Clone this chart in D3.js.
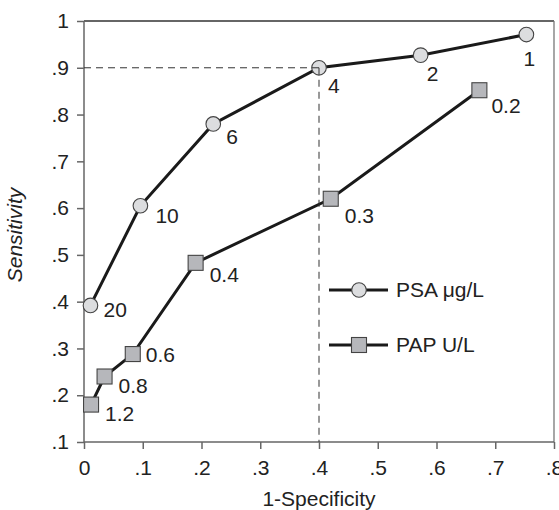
<!DOCTYPE html>
<html>
<head>
<meta charset="utf-8">
<script src="https://cdn.jsdelivr.net/npm/d3@7"></script>
<style>
  body { margin: 0; background: #fff; }
  svg text { font-family: "Liberation Sans", Arial, sans-serif; fill: #222; }
</style>
</head>
<body>
<svg id="chart" width="559" height="510"></svg>
<script>
// PSA curve (circles)
var psaX = [0.011, 0.096, 0.220, 0.400, 0.573, 0.753]
var psaY = [0.392, 0.605, 0.780, 0.900, 0.927, 0.971]
var psaCut = ["20", "10", "6", "4", "2", "1"]

// PAP curve (squares)
var papX = [0.012, 0.035, 0.083, 0.190, 0.420, 0.673]
var papY = [0.180, 0.240, 0.288, 0.483, 0.620, 0.852]
var papCut = ["1.2", "0.8", "0.6", "0.4", "0.3", "0.2"]

var xTicks = [0, .1, .2, .3, .4, .5, .6, .7, .8]
var xTickLabels = ["0", ".1", ".2", ".3", ".4", ".5", ".6", ".7", ".8"]
var yTicks = [.1, .2, .3, .4, .5, .6, .7, .8, .9, 1]
var yTickLabels = [".1", ".2", ".3", ".4", ".5", ".6", ".7", ".8", ".9", "1"]

var legendNames = ["PSA \u03bcg/L", "PAP U/L"]

var margin = { top: 21, right: 5, bottom: 68, left: 84 },
    width = 559 - margin.left - margin.right,
    height = 510 - margin.top - margin.bottom;

var fs = "21px"

var x = d3.scaleLinear().domain([0, 0.8]).range([0, width])
var y = d3.scaleLinear().domain([0.1, 1]).range([height, 0])

var svg = d3.select('#chart')
var g = svg.append("g").attr("transform", "translate(" + margin.left + "," + margin.top + ")")

// frame: top and right
g.append("line").attr("x1", 0).attr("x2", width).attr("y1", 0).attr("y2", 0)
    .style("stroke", "#333").style("stroke-width", 1.3)
g.append("line").attr("x1", width).attr("x2", width).attr("y1", 0).attr("y2", height)
    .style("stroke", "#777").style("stroke-width", 1.3)

// axes
var xAxis = g.append("g")
    .attr("transform", "translate(0," + height + ")")
    .call(d3.axisBottom(x)
        .tickValues(xTicks)
        .tickSize(7)
        .tickPadding(10)
        .tickFormat((d, i) => xTickLabels[i]))
var yAxis = g.append("g")
    .call(d3.axisLeft(y)
        .tickValues(yTicks)
        .tickSize(7)
        .tickPadding(8)
        .tickFormat((d, i) => yTickLabels[i]))

xAxis.select(".domain").attr("d", "M0,0H" + width)
yAxis.select(".domain").attr("d", "M0,0V" + height)
svg.selectAll(".domain, .tick line").style("stroke", "#666").style("stroke-width", 1.5)
svg.selectAll(".tick text").style("font-size", fs).style("fill", "#222")
xAxis.selectAll(".tick text").attr("dy", "0.76em")

// axis titles
svg.append("text")
    .attr("x", margin.left + x(0.4))
    .attr("y", 506)
    .attr("text-anchor", "middle")
    .style("font-size", fs)
    .text("1-Specificity")

svg.append("text")
    .attr("transform", "rotate(-90)")
    .attr("x", -235)
    .attr("y", 22)
    .attr("text-anchor", "middle")
    .style("font-size", fs)
    .style("font-style", "italic")
    .text("Sensitivity")

// curves
var line = d3.line().x(d => x(d[0])).y(d => y(d[1]))
var psa = psaX.map((v, i) => [v, psaY[i], psaCut[i]])
var pap = papX.map((v, i) => [v, papY[i], papCut[i]])

g.append("path").datum(psa).attr("d", line)
    .style("fill", "none").style("stroke", "#1a1a1a").style("stroke-width", 3)
g.append("path").datum(pap).attr("d", line)
    .style("fill", "none").style("stroke", "#1a1a1a").style("stroke-width", 3)

g.selectAll(".psa")
    .data(psa)
    .enter()
    .append("circle")
    .attr("class", "psa")
    .attr("cx", d => x(d[0]))
    .attr("cy", d => y(d[1]))
    .attr("r", 7.3)
    .style("fill", "#dcdddf")
    .style("stroke", "#444")
    .style("stroke-width", 1.1)

g.selectAll(".pap")
    .data(pap)
    .enter()
    .append("rect")
    .attr("class", "pap")
    .attr("x", d => x(d[0]) - 7.5)
    .attr("y", d => y(d[1]) - 7.5)
    .attr("width", 15)
    .attr("height", 15)
    .style("fill", "#b6b7bb")
    .style("stroke", "#444")
    .style("stroke-width", 1.1)

// dashed guides at 1-specificity .4 / sensitivity .9
g.append("line")
    .attr("x1", x(0)).attr("x2", x(0.4))
    .attr("y1", y(0.9)).attr("y2", y(0.9))
    .style("stroke", "#333").style("stroke-width", 1).style("stroke-dasharray", "7,5")
g.append("line")
    .attr("x1", x(0.4)).attr("x2", x(0.4))
    .attr("y1", y(0.9)).attr("y2", y(0.1))
    .style("stroke", "#333").style("stroke-width", 1).style("stroke-dasharray", "7,5")

// cut-off labels (offsets from each marker)
var psaOff = [[13, 12], [15, 17], [13, 20], [9, 25], [6, 26], [-3, 31]]
var papOff = [[14, 16], [14, 16], [13, 8], [14, 19], [14, 24], [12, 23]]

g.selectAll(".psaLab")
    .data(psa)
    .enter()
    .append("text")
    .attr("x", (d, i) => x(d[0]) + psaOff[i][0])
    .attr("y", (d, i) => y(d[1]) + psaOff[i][1])
    .style("font-size", fs)
    .text(d => d[2])

g.selectAll(".papLab")
    .data(pap)
    .enter()
    .append("text")
    .attr("x", (d, i) => x(d[0]) + papOff[i][0])
    .attr("y", (d, i) => y(d[1]) + papOff[i][1])
    .style("font-size", fs)
    .text(d => d[2])

// Legend
var lg = svg.append("g").attr("transform", "translate(329,290)")
lg.append("line").attr("x1", 0).attr("x2", 59).attr("y1", 0).attr("y2", 0)
    .style("stroke", "#1a1a1a").style("stroke-width", 3)
lg.append("circle").attr("cx", 30).attr("cy", 0).attr("r", 7.3)
    .style("fill", "#dcdddf").style("stroke", "#444").style("stroke-width", 1.1)
lg.append("text").attr("x", 67).attr("y", 0).attr("dy", "0.35em")
    .style("font-size", fs).text(legendNames[0])

lg.append("line").attr("x1", 0).attr("x2", 59).attr("y1", 55).attr("y2", 55)
    .style("stroke", "#1a1a1a").style("stroke-width", 3)
lg.append("rect").attr("x", 22.5).attr("y", 47.5).attr("width", 15).attr("height", 15)
    .style("fill", "#b6b7bb").style("stroke", "#444").style("stroke-width", 1.1)
lg.append("text").attr("x", 67).attr("y", 55).attr("dy", "0.35em")
    .style("font-size", fs).text(legendNames[1])
</script>
</body>
</html>
